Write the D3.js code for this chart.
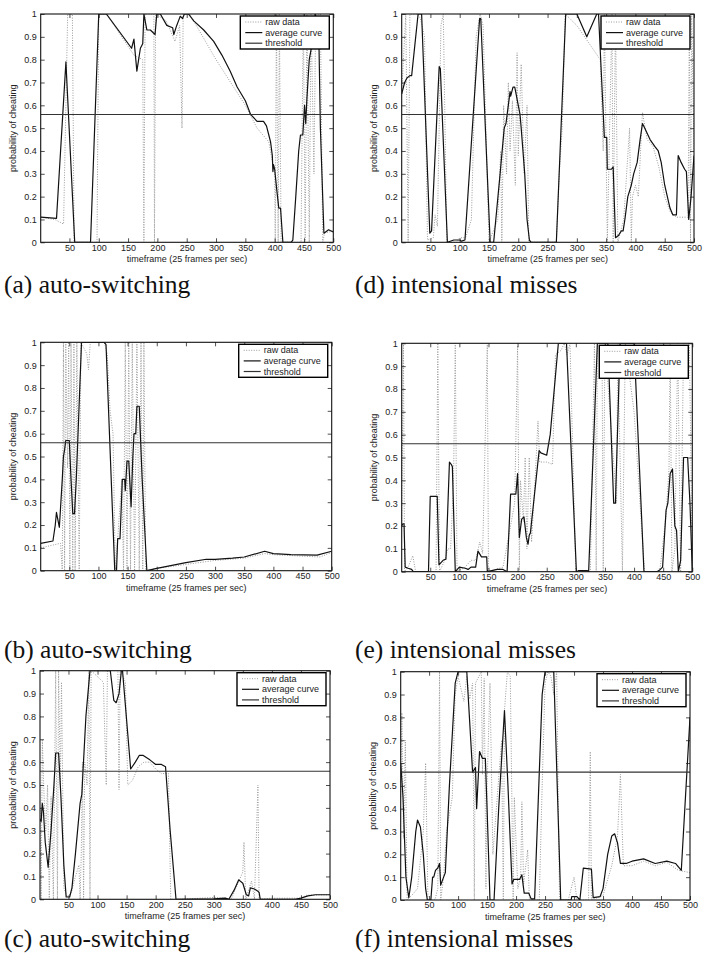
<!DOCTYPE html>
<html>
<head>
<meta charset="utf-8">
<script src="https://cdn.jsdelivr.net/npm/d3@7"></script>
<style>
  body { margin: 0; background: #fff; }
  svg { display: block; }
</style>
</head>
<body>
<svg width="712" height="959"></svg>
<script>
const xTicks = [50, 100, 150, 200, 250, 300, 350, 400, 450, 500];
const yTicks = [0, 0.1, 0.2, 0.3, 0.4, 0.5, 0.6, 0.7, 0.8, 0.9, 1];
const threshold = 0.56;
const legendLabels = ["raw data", "average curve", "threshold"];
const captions = ["(a) auto-switching", "(b) auto-switching", "(c) auto-switching",
  "(d) intensional misses", "(e) intensional misses", "(f) intensional misses"];

// [timeframe, probability]
const avgA = [[1,0.11],[28,0.105],[44,0.79],[59,0],[86,0],[100,1],[113,1],[156,0.85],[160,0.89],[165,0.75],[171,0.85],[175,0.87],[177,1],[182,0.93],[188,0.93],[196,0.91],[199,1],[205,1],[216,0.95],[226,0.94],[228,0.91],[233,0.95],[236,0.97],[239,0.99],[243,0.98],[246,1],[253,1],[262,0.97],[279,0.93],[296,0.88],[310,0.82],[324,0.75],[336,0.68],[350,0.62],[359,0.56],[370,0.53],[381,0.53],[386,0.51],[390,0.47],[393,0.44],[396,0.38],[397,0.31],[398,0.34],[400,0.32],[404,0.22],[407,0.15],[410,0.15],[414,0],[428,0],[431,0.01],[436,0.2],[441,0.4],[444,0.47],[448,0.47],[451,0.6],[453,0.52],[455,0.63],[459,0.8],[466,0.9],[469,1],[475,0.95],[478,0.5],[484,0.04],[492,0.055],[500,0.045]];
const rawA = [[1,0.11],[25,0.1],[40,0.08],[47,1],[55,1],[58,0],[97,0],[100,1],[113,1],[160,0.82],[175,0.8],[177,0],[179,1],[194,1],[195,0],[197,1],[215,0.97],[230,0.88],[238,0.95],[242,0.5],[244,1],[255,1],[300,0.8],[350,0.6],[370,0.5],[390,0.44],[400,0.3],[401,0],[403,1],[406,0],[408,1],[411,0],[445,0],[447,0.55],[449,1],[452,0],[455,1],[459,0],[462,1],[467,0.3],[470,1],[478,1],[482,0],[485,0.04],[500,0.05]];

const avgB = [[1,0.12],[22,0.13],[26,0.2],[28,0.255],[33,0.19],[38,0.4],[40,0.5],[42,0.53],[44,0.57],[50,0.57],[53,0.4],[56,0.25],[59,0.25],[62,0.4],[65,0.6],[68,0.8],[71,1],[110,1],[113,0.99],[128,0],[131,0],[133,0.14],[137,0.14],[141,0.4],[145,0.4],[146,0.35],[149,0.48],[152,0.48],[156,0.28],[159,0.5],[161,0.6],[164,0.6],[166,0.72],[170,0.72],[175,0.4],[183,0],[200,0.01],[250,0.035],[285,0.05],[300,0.05],[330,0.055],[350,0.06],[385,0.085],[400,0.075],[430,0.07],[475,0.068],[500,0.085]];
const rawB = [[1,0.1],[35,0.12],[38,0],[40,1],[42,0],[44,1],[47,0.45],[49,1],[51,0],[53,1],[56,0],[58,1],[60,0],[63,1],[67,0],[70,1],[80,0.95],[83,0.88],[86,1],[110,1],[115,0.95],[120,0.7],[125,0.6],[129,0],[133,0.14],[140,0.4],[143,0],[146,1],[149,0],[152,1],[155,0],[158,1],[162,0],[166,1],[170,0],[173,1],[176,0],[178,1],[181,0],[200,0.01],[300,0.045],[350,0.055],[385,0.075],[400,0.07],[480,0.06],[500,0.08]];

const avgC = [[1,0.35],[3,0.34],[5,0.42],[7,0.38],[10,0.25],[15,0.14],[20,0.3],[25,0.5],[28,0.64],[33,0.64],[37,0.45],[42,0.15],[46,0.01],[52,0.01],[56,0.05],[62,0.2],[70,0.42],[73,0.46],[75,0.56],[80,0.8],[87,1],[122,1],[128,0.87],[132,0.86],[137,0.9],[141,1],[143,1],[157,0.57],[165,0.6],[172,0.63],[178,0.63],[190,0.61],[200,0.59],[210,0.59],[217,0.58],[225,0.3],[235,0],[300,0.002],[320,0.005],[326,0],[335,0.04],[343,0.085],[350,0.07],[356,0.02],[360,0.015],[363,0.05],[370,0.045],[376,0.035],[378,0.03],[380,0],[440,0],[450,0.005],[462,0.015],[475,0.02],[500,0.02]];
const rawC = [[1,0.4],[3,0],[5,0.7],[8,0.45],[11,0.3],[14,0.5],[17,0],[20,0.45],[24,0],[28,1],[31,0],[33,1],[36,0.5],[38,0.95],[42,0.05],[48,0.01],[55,0.03],[62,0.1],[68,0.15],[70,0],[72,0.2],[74,0.6],[76,0],[78,0.6],[82,0.5],[85,1],[87,0],[89,1],[110,0.95],[115,0.5],[117,1],[135,1],[137,0.48],[139,1],[148,0.95],[152,0.5],[160,0.52],[170,0.58],[180,0.6],[190,0.6],[200,0.57],[210,0.55],[222,0.55],[226,0],[240,0],[300,0.008],[320,0.005],[330,0],[340,0.06],[350,0.12],[352,0.25],[355,0],[365,0.08],[370,0],[376,0.5],[378,0],[400,0.005],[450,0.005],[460,0.018],[500,0.02]];

const avgD = [[1,0.65],[6,0.7],[10,0.72],[15,0.73],[18,0.73],[29,1],[35,1],[49,0.04],[52,0.05],[65,0.77],[67,0.76],[79,0],[90,0.01],[100,0.01],[103,0.005],[109,0.01],[134,0.98],[136,0.98],[152,0],[158,0],[169,0.3],[176,0.5],[179,0.52],[183,0.6],[186,0.66],[187,0.64],[191,0.68],[194,0.68],[197,0.64],[200,0.6],[203,0.56],[205,0.5],[211,0.3],[215,0.1],[219,0.01],[222,0],[265,0],[281,1],[300,1],[317,0.9],[334,1],[337,1],[347,0.46],[351,0.46],[352,0.32],[359,0.32],[362,0.33],[366,0.02],[371,0.03],[376,0.05],[379,0.05],[382,0.1],[387,0.2],[393,0.25],[397,0.3],[403,0.35],[408,0.45],[412,0.52],[416,0.5],[425,0.45],[433,0.42],[439,0.4],[444,0.35],[450,0.25],[459,0.15],[464,0.12],[470,0.12],[473,0.38],[478,0.35],[484,0.32],[487,0.31],[491,0.1],[495,0.2],[500,0.38]];
const rawD = [[1,0.65],[8,1],[12,0],[15,1],[28,1],[33,0.98],[40,0.9],[45,0.01],[55,0.02],[58,0.12],[62,0.07],[68,0.95],[72,1],[78,0],[95,0],[100,0.02],[110,0.02],[120,0.1],[128,0.9],[135,1],[140,0.95],[150,0],[165,0.1],[170,0.4],[172,0],[175,0.6],[180,0.3],[183,0.7],[186,0.4],[190,0.62],[195,0.25],[198,0.83],[200,0.38],[205,0.78],[210,0.3],[215,0.6],[218,0],[265,0],[270,0.3],[275,0.5],[280,1],[300,0.95],[340,0.8],[345,0.4],[347,1],[352,0],[360,1],[362,0],[366,1],[370,0],[380,0.1],[390,0.5],[393,0],[395,0.2],[400,0.25],[405,0.2],[412,0.57],[420,0.45],[430,0.42],[440,0.33],[450,0.2],[460,0.13],[470,0.11],[490,0.11],[492,1],[494,0],[496,1],[500,0.4]];

const avgE = [[1,0.2],[3,0.21],[5,0.21],[7,0.02],[12,0.015],[18,0.01],[21,0],[47,0],[50,0.33],[62,0.33],[65,0.03],[72,0.05],[77,0.055],[83,0.48],[86,0.47],[88,0.46],[93,0],[100,0.02],[110,0.015],[115,0.01],[120,0.02],[128,0.02],[132,0.09],[138,0.065],[147,0.065],[148,0],[165,0.01],[175,0.01],[182,0],[188,0.34],[197,0.34],[200,0.43],[203,0.15],[207,0.23],[211,0.24],[215,0.15],[218,0.12],[220,0.16],[222,0.17],[237,0.53],[240,0.52],[250,0.51],[256,0.6],[270,1],[284,1],[301,0],[305,0.005],[320,0.005],[322,0],[337,1],[355,1],[365,0.3],[368,0.3],[376,1],[400,1],[417,0],[440,0],[445,0.01],[449,0.02],[455,0.27],[458,0.3],[462,0.43],[466,0.45],[470,0.2],[473,0.18],[476,0],[480,0.05],[485,0.5],[492,0.5],[496,0.3],[500,0]];
const rawE = [[1,0.2],[4,1],[6,0],[12,0.02],[20,0.07],[25,0],[60,0],[63,1],[66,0],[75,0.05],[80,0.1],[85,0.1],[90,0.4],[93,1],[96,0],[110,0.02],[120,0.05],[128,0.05],[135,0.13],[140,0.08],[148,1],[150,0],[175,0.02],[195,0.3],[200,0.99],[203,0],[205,0.4],[210,0.22],[213,0.5],[216,0.1],[220,0.5],[224,0.13],[230,0.4],[235,0.66],[238,0.48],[250,0.48],[260,0.47],[265,0.95],[275,0.97],[280,1],[285,0.95],[290,1],[300,0],[325,0],[332,1],[335,0],[337,1],[345,1],[347,0],[350,1],[370,0.3],[372,1],[380,0],[385,1],[400,0.7],[418,0],[440,0],[445,0.02],[455,0.25],[460,0.45],[462,1],[465,0],[470,0.1],[475,1],[480,0],[485,1],[495,1],[500,0]];

const avgF = [[1,0.6],[5,0.45],[10,0.1],[15,0.01],[20,0.1],[27,0.3],[30,0.35],[35,0.32],[40,0.2],[44,0.05],[47,0],[53,0],[56,0.1],[58,0.1],[61,0.13],[65,0.14],[68,0.16],[70,0.065],[75,0.1],[78,0.12],[85,0.5],[95,0.95],[100,1],[115,1],[125,0.56],[130,0.58],[132,0.4],[137,0.65],[142,0.62],[147,0.62],[150,0.4],[155,0],[162,0],[170,0.4],[180,0.83],[186,0.5],[193,0.07],[196,0.09],[206,0.09],[210,0.11],[214,0.03],[222,0.03],[226,0.005],[232,0.005],[245,0.9],[250,1],[265,1],[277,0],[295,0],[296,0.015],[305,0.015],[310,0],[316,0.14],[330,0.135],[333,0.01],[345,0.015],[350,0.05],[358,0.2],[365,0.28],[370,0.29],[375,0.25],[380,0.16],[390,0.16],[400,0.17],[420,0.18],[440,0.16],[460,0.17],[475,0.16],[485,0.13],[500,0.8]];
const rawF = [[1,0.45],[3,0.82],[6,0.27],[9,0.7],[12,0],[20,0.02],[30,0.05],[40,0.3],[44,0.6],[48,0],[60,0],[65,0.05],[68,1],[70,0],[75,0.1],[80,0.3],[90,0.45],[95,0.9],[100,0.98],[110,0.87],[115,0.98],[120,0.88],[125,0.95],[128,0],[130,0.95],[140,1],[142,0.55],[145,0.97],[148,0.05],[150,0.5],[155,0.95],[160,0.2],[175,0.7],[178,0],[180,0.83],[185,1],[190,0.98],[195,0],[197,0.45],[203,0.05],[208,0.1],[210,0.43],[213,0.07],[220,0.22],[223,0],[240,0],[245,0.5],[250,0.95],[255,1],[260,0.98],[265,0.9],[270,1],[275,0],[290,0],[300,0.1],[305,0],[325,0],[328,0.65],[330,0],[350,0.02],[365,0.15],[375,0.28],[380,0.55],[385,0.15],[400,0.15],[420,0.17],[440,0.15],[460,0.165],[480,0.13],[500,0.12]];

// panel frames (plot area) and caption positions
const panels = [
  { raw: rawA, avg: avgA, x0: 40.7, x1: 333.3, y0: 14, y1: 242.3, cx: 4, cy: 292.5 },
  { raw: rawB, avg: avgB, x0: 40.7, x1: 331.7, y0: 342.3, y1: 570.7, cx: 4, cy: 658 },
  { raw: rawC, avg: avgC, x0: 40, x1: 330, y0: 670.7, y1: 899.3, cx: 4, cy: 946.5 },
  { raw: rawD, avg: avgD, x0: 401.7, x1: 694, y0: 14, y1: 242.3, cx: 355, cy: 292.5 },
  { raw: rawE, avg: avgE, x0: 401.7, x1: 692.3, y0: 343.3, y1: 571.7, cx: 355, cy: 658 },
  { raw: rawF, avg: avgF, x0: 400.7, x1: 690, y0: 671.7, y1: 900, cx: 355, cy: 946.5 }
];

const svg = d3.select("svg");
svg.append("rect").attr("width", 712).attr("height", 959).attr("fill", "#fff");

const sans = "'Liberation Sans', Arial, Helvetica, sans-serif";
const tickLen = 4;

panels.forEach((p, i) => {
  const x = d3.scaleLinear().domain([1, 500]).range([p.x0, p.x1]);
  const y = d3.scaleLinear().domain([0, 1]).range([p.y1, p.y0]);
  const g = svg.append("g");

  const clipId = "clip" + i;
  svg.append("clipPath").attr("id", clipId)
    .append("rect")
    .attr("x", p.x0).attr("y", p.y0)
    .attr("width", p.x1 - p.x0).attr("height", p.y1 - p.y0);

  const line = d3.line().x((d) => x(d[0])).y((d) => y(d[1]));
  const plot = g.append("g").attr("clip-path", `url(#${clipId})`);

  plot.append("path")
    .attr("d", line(p.raw))
    .attr("fill", "none")
    .attr("stroke", "#9a9a9a")
    .attr("stroke-width", 1)
    .attr("stroke-dasharray", "1,1.5");

  plot.append("path")
    .attr("d", line(p.avg))
    .attr("fill", "none")
    .attr("stroke", "#111")
    .attr("stroke-width", 1.2)
    .attr("stroke-linejoin", "round");

  plot.append("line")
    .attr("x1", p.x0).attr("x2", p.x1)
    .attr("y1", y(threshold)).attr("y2", y(threshold))
    .attr("stroke", "#333")
    .attr("stroke-width", 1.1);

  // axes: ticks point inward, on all four sides
  const xAxis = d3.axisBottom(x).tickValues(xTicks).tickSize(-tickLen).tickPadding(2)
    .tickFormat(d3.format("d"));
  const yAxis = d3.axisLeft(y).tickValues(yTicks).tickSize(-tickLen).tickPadding(4)
    .tickFormat((d) => (d === 0 || d === 1 ? String(d) : d.toFixed(1)));
  const xTop = d3.axisTop(x).tickValues(xTicks).tickSize(-tickLen).tickFormat("");
  const yRight = d3.axisRight(y).tickValues(yTicks).tickSize(-tickLen).tickFormat("");

  const styleAxis = (sel) => {
    sel.select(".domain").remove();
    sel.selectAll(".tick line").attr("stroke", "#222").attr("stroke-width", 0.8);
    sel.selectAll(".tick text").attr("fill", "#222").style("font-family", sans).style("font-size", "9px");
  };

  g.append("g").attr("transform", `translate(0,${p.y1})`).call(xAxis).call(styleAxis);
  g.append("g").attr("transform", `translate(${p.x0},0)`).call(yAxis).call(styleAxis);
  g.append("g").attr("transform", `translate(0,${p.y0})`).call(xTop).call(styleAxis);
  g.append("g").attr("transform", `translate(${p.x1},0)`).call(yRight).call(styleAxis);

  g.append("rect")
    .attr("x", p.x0).attr("y", p.y0)
    .attr("width", p.x1 - p.x0).attr("height", p.y1 - p.y0)
    .attr("fill", "none").attr("stroke", "#111").attr("stroke-width", 1.1);

  g.append("text")
    .attr("x", (p.x0 + p.x1) / 2).attr("y", p.y1 + 19.8)
    .attr("text-anchor", "middle")
    .style("font-family", sans).style("font-size", "9px").attr("fill", "#222")
    .text("timeframe (25 frames per sec)");

  g.append("text")
    .attr("transform", `translate(${p.x0 - 24.5},${(p.y0 + p.y1) / 2}) rotate(-90)`)
    .attr("text-anchor", "middle")
    .style("font-family", sans).style("font-size", "9px").attr("fill", "#222")
    .text("probability of cheating");

  // legend
  const lx = p.x1 - 93, ly = p.y0 + 2;
  const lg = g.append("g").attr("transform", `translate(${lx},${ly})`);
  lg.append("rect").attr("width", 89).attr("height", 33)
    .attr("fill", "#fff").attr("stroke", "#000").attr("stroke-width", 1.4);
  const legendStyles = [
    { stroke: "#9a9a9a", dash: "1,1.5" },
    { stroke: "#111", dash: null },
    { stroke: "#333", dash: null }
  ];
  legendLabels.forEach((lab, k) => {
    const ry = 6 + k * 10.6;
    lg.append("line")
      .attr("x1", 5).attr("x2", 22).attr("y1", ry).attr("y2", ry)
      .attr("stroke", legendStyles[k].stroke)
      .attr("stroke-width", k === 0 ? 1 : 1.2)
      .attr("stroke-dasharray", legendStyles[k].dash);
    lg.append("text")
      .attr("x", 25).attr("y", ry + 3.2)
      .style("font-family", sans).style("font-size", "9px").attr("fill", "#222")
      .text(lab);
  });

  svg.append("text")
    .attr("x", p.cx).attr("y", p.cy)
    .style("font-family", "'Liberation Serif', 'Times New Roman', serif")
    .style("font-size", "25.5px").attr("fill", "#111")
    .text(captions[i]);
});
</script>
</body>
</html>
